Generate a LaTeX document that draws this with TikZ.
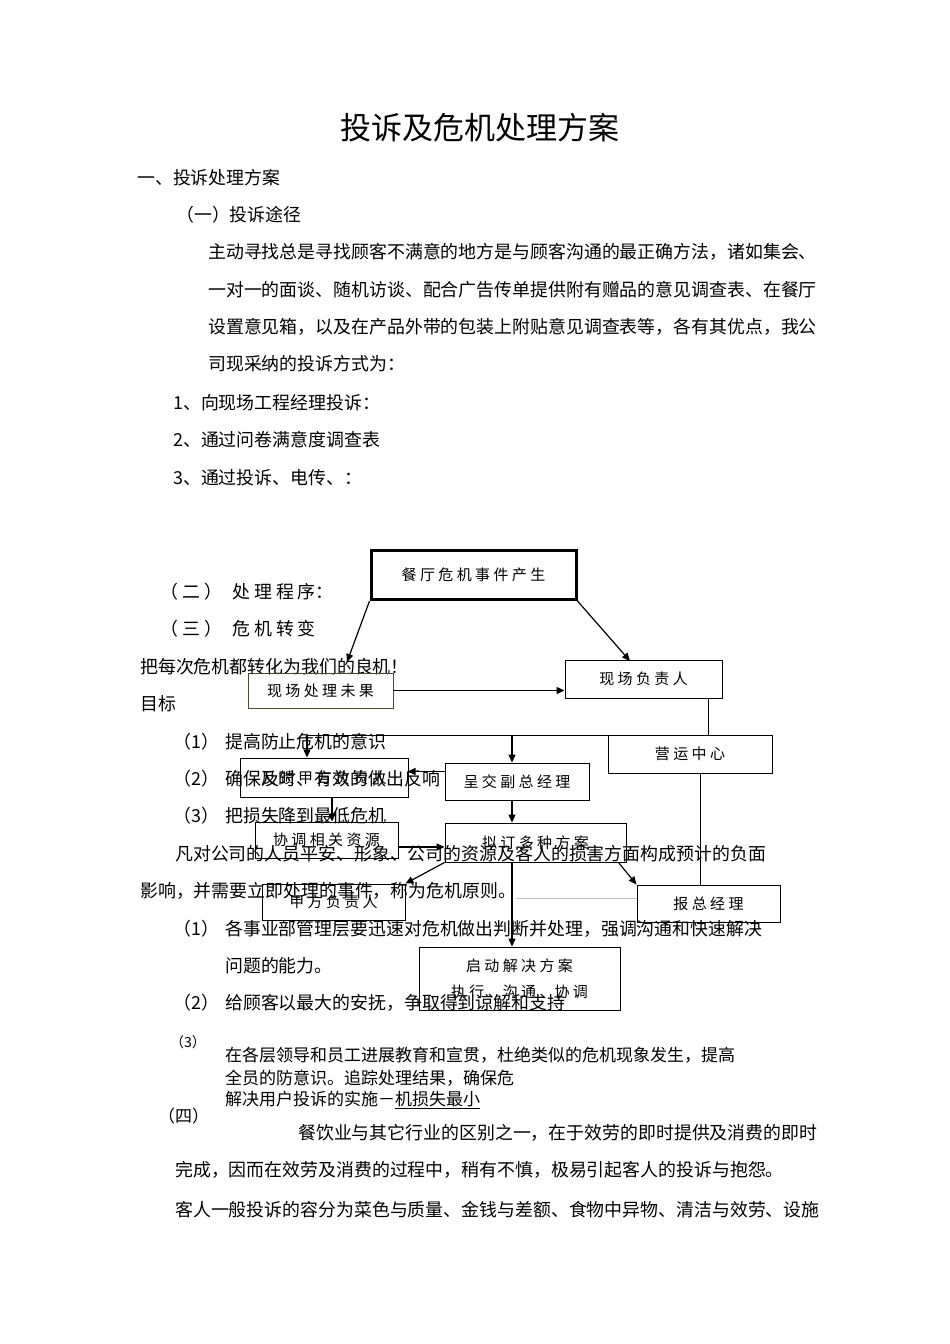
\documentclass[tikz,border=0pt]{standalone}
\usepackage{fontspec}
\setmainfont{Noto Sans CJK SC}
\usetikzlibrary{arrows.meta}
\begin{document}
\begin{tikzpicture}[x=1pt,y=-1pt,
  txt/.style={anchor=west,inner sep=0pt,font=\fontsize{17.9}{20}\selectfont},
  sm/.style={anchor=west,inner sep=0pt,font=\fontsize{17}{19}\selectfont},
  fbox/.style={draw,line width=0.9pt,inner sep=0pt,font=\fontsize{15}{18}\selectfont},
  arr/.style={-{Triangle[length=8pt,width=7pt]},line width=1.2pt},
  ln/.style={line width=1pt}]
\useasboundingbox (0,0) rectangle (950,1344);
\fill[white] (0,0) rectangle (950,1344);
% page text
\node[inner sep=0pt,font=\fontsize{31}{34}\selectfont] (title) at (480,128) {投诉及危机处理方案};
\node[txt] (t1) at (137,178) {一、投诉处理方案};
\node[txt] (t2) at (176,215) {（一）投诉途径};
\node[txt] (p1) at (208,252) {主动寻找总是寻找顾客不满意的地方是与顾客沟通的最正确方法，诸如集会、};
\node[txt] (p2) at (208,290) {一对一的面谈、随机访谈、配合广告传单提供附有赠品的意见调查表、在餐厅};
\node[txt] (p3) at (208,327) {设置意见箱，以及在产品外带的包装上附贴意见调查表等，各有其优点，我公};
\node[txt] (p4) at (208,364) {司现采纳的投诉方式为：};
\node[txt] (l1) at (173,403) {1、向现场工程经理投诉：};
\node[txt] (l2) at (173,440) {2、通过问卷满意度调查表};
\node[txt] (l3) at (173,478) {3、通过投诉、电传、：};
\node[txt] (s2a) at (160,592) {（ 二 ）};
\node[txt] (s2b) at (232,592) {处 理 程 序：};
\node[txt] (s3a) at (160,629) {（ 三 ）};
\node[txt] (s3b) at (232,629) {危 机 转 变};
\node[txt] (g0) at (140,667) {把每次危机都转化为我们的良机！};
\node[txt] (g1) at (140,704) {目标};
\node[txt] (a1) at (173,742) {（1）};
\node[txt] (a1t) at (225,742) {提高防止危机的意识};
\node[txt] (a2) at (173,779) {（2）};
\node[txt] (a2t) at (225,779) {确保及时、有效的做出反响};
\node[txt] (a3) at (173,816) {（3）};
\node[txt] (a3t) at (225,816) {把损失降到最低危机};
\node[txt] (q1) at (175,854) {凡对公司的人员平安、形象、公司的资源及客人的损害方面构成预计的负面};
\node[txt] (q2) at (140,891) {影响，并需要立即处理的事件，称为危机原则。};
\node[txt] (b1) at (173,929) {（1）};
\node[txt] (b1t) at (225,929) {各事业部管理层要迅速对危机做出判断并处理，强调沟通和快速解决};
\node[txt] (b1u) at (225,966) {问题的能力。};
\node[txt] (b2) at (173,1003) {（2）};
\node[txt] (b2t) at (225,1003) {给顾客以最大的安抚，争取得到谅解和支持};
\node[sm,font=\fontsize{14}{16}\selectfont] (b3) at (170,1042) {（3）};
\node[sm] (b3t) at (225,1055) {在各层领导和员工进展教育和宣贯，杜绝类似的危机现象发生，提高};
\node[sm] (b3u) at (225,1078) {全员的防意识。追踪处理结果，确保危};
\node[sm] (b3v) at (225,1100) {解决用户投诉的实施－\underline{机损失最小}};
\node[sm] (s4) at (158,1116) {（四）};
\node[txt] (r1) at (298,1133) {餐饮业与其它行业的区别之一，在于效劳的即时提供及消费的即时};
\node[txt] (r2) at (175,1170) {完成，因而在效劳及消费的过程中，稍有不慎，极易引起客人的投诉与抱怨。};
\node[txt] (r3) at (175,1210) {客人一般投诉的容分为菜色与质量、金钱与差额、食物中异物、清洁与效劳、设施};
% flowchart boxes
\node[fbox,line width=3pt,minimum width=205pt,minimum height=49pt] (top) at (473.5,575) {餐 厅 危 机 事 件 产 生};
\node[fbox,draw=black!60!olive,minimum width=145pt,minimum height=35pt] (wg) at (320.5,690.5) {现 场 处 理 未 果};
\node[fbox,minimum width=157pt,minimum height=38pt] (xc) at (643.5,679) {现 场 负 责 人};
\node[fbox,minimum width=164pt,minimum height=38pt] (yy) at (690,754) {营 运 中 心};
\node[fbox,minimum width=168pt,minimum height=39pt] (fk) at (324,777.5) {反 馈 甲 方 负 责 人};
\node[fbox,minimum width=144pt,minimum height=37pt] (cj) at (517,781.5) {呈 交 副 总 经 理};
\node[fbox,minimum width=143pt,minimum height=36pt] (xt) at (326.5,840) {协 调 相 关 资 源};
\node[fbox,minimum width=181pt,minimum height=39pt] (nd) at (535.5,842.5) {拟 订 多 种 方 案};
\node[fbox,minimum width=143pt,minimum height=36pt] (jf) at (333.5,902) {甲 方 负 责 人};
\node[fbox,minimum width=143pt,minimum height=37pt] (bz) at (708.5,903.5) {报 总 经 理};
\node[fbox,minimum width=201pt,minimum height=63pt,align=center] (qd) at (519.5,978.5) {启 动 解 决 方 案\\[8pt]执 行 、沟 通 、协 调};
% connectors
\coordinate (h1) at (307,735);
\coordinate (h2) at (512,735);
\draw[arr] (top.south west) -- (347,662);
\draw[arr] (top.south east) -- (630,661);
\draw[arr] (wg.east) -- (xc.west |- wg.east);
\draw[ln] (xc.south -| 708,0) -- (yy.north -| 708,0);
\draw[ln] (yy.west) ++(0,-19) -- (h1);
\draw[arr] (h1) -- (fk.north -| h1);
\draw[arr] (h2) -- (cj.north -| h2);
\draw[arr] (cj.west) ++(0,-10) -- ++(-37,0);
\draw[arr] (fk.south -| 332,0) -- (xt.north -| 332,0);
\draw[arr] (cj.south -| 512,0) -- (nd.north -| 512,0);
\draw[ln] (yy.south -| 700,0) -- (bz.north -| 700,0);
\draw[arr] (xt.east |- 0,847) -- (nd.west |- 0,847);
\draw[arr] (nd.south west) -- (jf.north east);
\draw[arr] (nd.south east) ++(-8,0) -- (bz.north west);
\draw[arr] (nd.south -| 512,0) -- (qd.north -| 512,0);
\draw[black!25,line width=0.8pt] (516,898) -- (bz.west |- 0,898);
\end{tikzpicture}
\end{document}
